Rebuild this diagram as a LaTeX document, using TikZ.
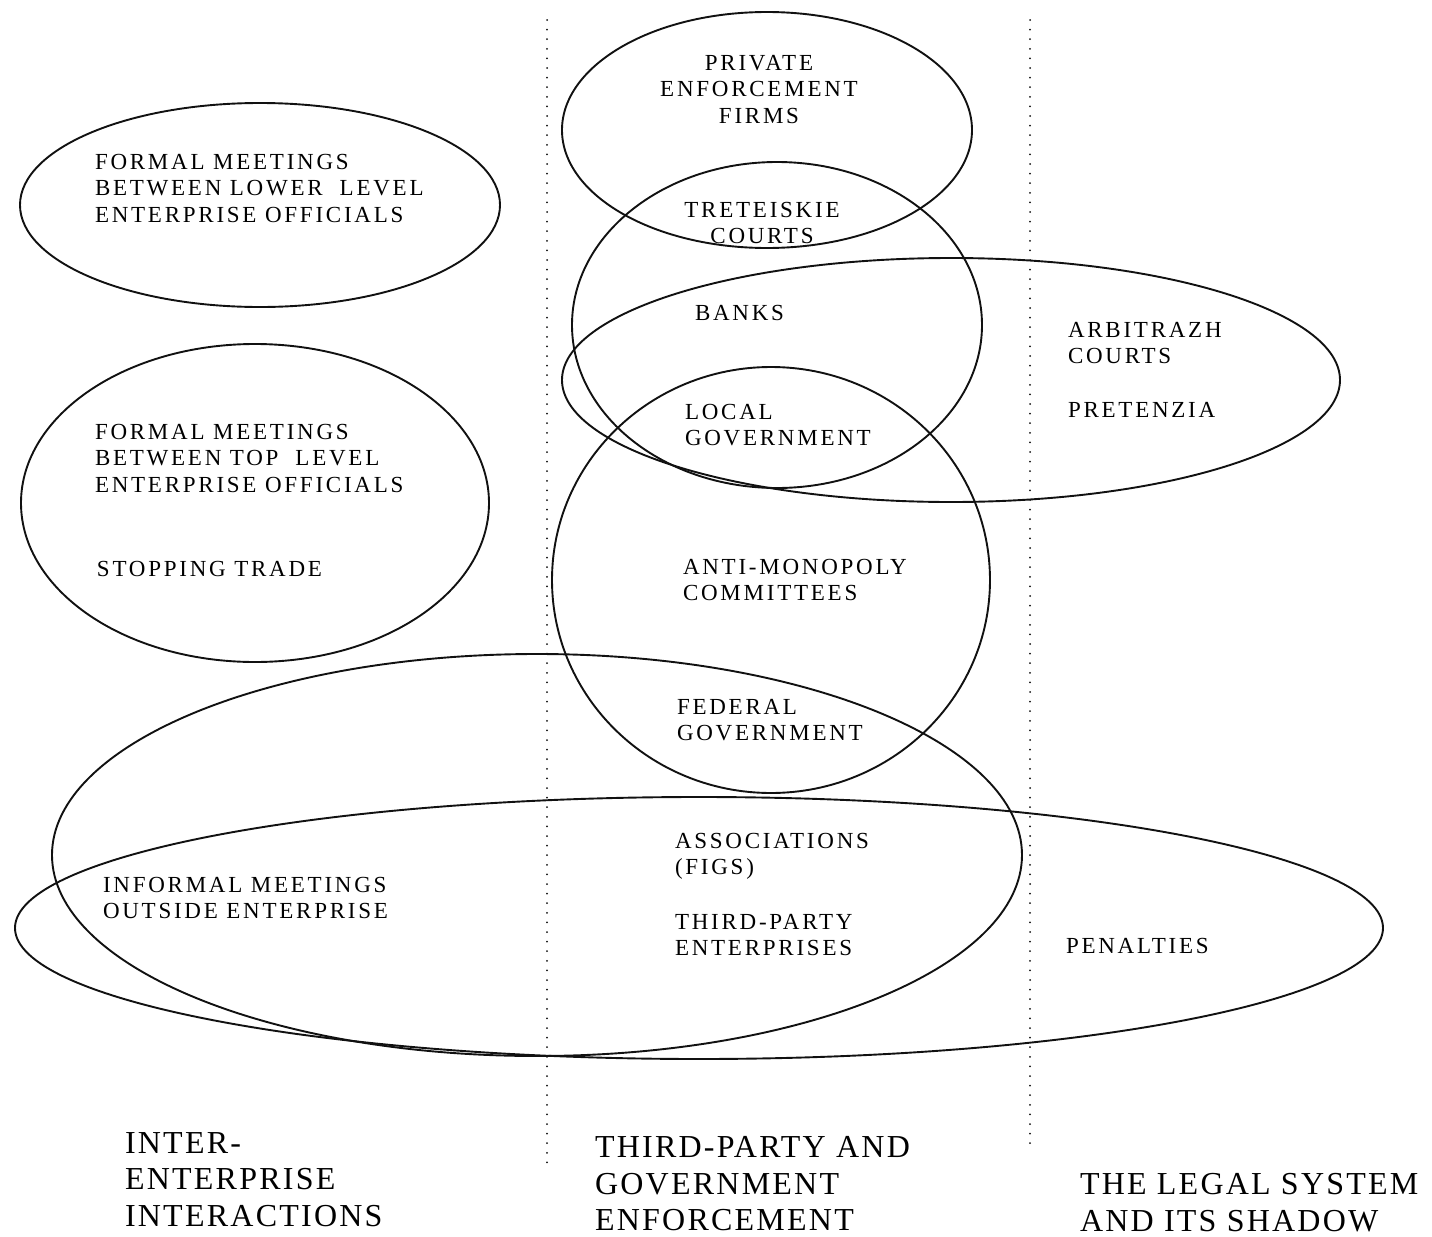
\documentclass[tikz,border=0pt]{standalone}
\usepackage{fontspec}
\setmainfont{Liberation Serif}
\newfontfamily\boxfont[LetterSpace=12]{Liberation Serif}
\newfontfamily\colfont[LetterSpace=7]{Liberation Serif}
\usepackage{tikz}
\usetikzlibrary{positioning}

\begin{document}
\begin{tikzpicture}[
    x={(0.5pt,0pt)}, y={(0pt,-0.5pt)},
    every node/.style={inner sep=0pt, outer sep=0pt},
    ring/.style={draw=ringink, line width=0.95pt},
    divider/.style={draw=ringink, line width=1pt, line cap=round, dash pattern=on 0pt off 4.8pt},
    boxlabel/.style={anchor=north west, align=left, font=\boxfont\fontsize{11.5}{13.25}\selectfont},
    collabel/.style={anchor=north west, align=left, font=\colfont\fontsize{16}{18.2}\selectfont},
  ]
    \definecolor{ringink}{HTML}{111111}
    \pgfmathsetmacro{\Lx}{547}
    \pgfmathsetmacro{\Rx}{1030}
    \useasboundingbox (0,0) rectangle (1432,1237);

    % ============ column dividers ============
    \draw[divider] (\Lx,20) -- (\Lx,1163);
    \draw[divider] (\Rx,20) -- (\Rx,1149);

    % ============ inter-enterprise column ============
    \draw[ring] (260,205) ellipse [x radius=240, y radius=102];
    \draw[ring] (255,503) ellipse [x radius=234, y radius=159];
    \node[boxlabel] (lowerlvl) at (95,154)
      {FORMAL MEETINGS\\BETWEEN LOWER\ \ LEVEL\\ENTERPRISE OFFICIALS};
    \node[boxlabel] (toplvl) at (95,424)
      {FORMAL MEETINGS\\BETWEEN TOP\ \ LEVEL\\ENTERPRISE OFFICIALS};
    \node[boxlabel] (stoptrade) at (97,561) {STOPPING TRADE};

    % ============ third-party column ============
    \draw[ring] (767,130) ellipse [x radius=205, y radius=118];
    \draw[ring] (777,325) ellipse [x radius=205, y radius=163];
    \draw[ring] (771,580) ellipse [x radius=219, y radius=213];
    \node[boxlabel, anchor=north, align=center] (privfirms) at (759,55)
      {PRIVATE\\ENFORCEMENT\\FIRMS};
    \node[boxlabel, anchor=north, align=center] (treteiskie) at (762,202)
      {TRETEISKIE\\COURTS};
    \node[boxlabel] (banks) at (695,305) {BANKS};
    \node[boxlabel] (localgov) at (685,404) {LOCAL\\GOVERNMENT};
    \node[boxlabel] (antimono) at (683,559) {ANTI-MONOPOLY\\COMMITTEES};
    \node[boxlabel] (fedgov) at (677,699) {FEDERAL\\GOVERNMENT};
    \node[boxlabel] (assoc) at (675,833) {ASSOCIATIONS\\(FIGS)};
    \node[boxlabel] (thirdent) at (675,914) {THIRD-PARTY\\ENTERPRISES};

    % ============ legal system column ============
    \draw[ring] (951,380) ellipse [x radius=389, y radius=122];
    \node[boxlabel] (arbitrazh) at (1068,322) {ARBITRAZH\\COURTS};
    \node[boxlabel] (pretenzia) at (1068,402) {PRETENZIA};

    % ============ bottom rings ============
    \draw[ring] (537,855) ellipse [x radius=485, y radius=201];
    \draw[ring] (699,928) ellipse [x radius=684, y radius=131];
    \node[boxlabel] (informal) at (103,877) {INFORMAL MEETINGS\\OUTSIDE ENTERPRISE};
    \node[boxlabel] (penalties) at (1066,938) {PENALTIES};

    % ============ column headings ============
    \node[collabel] (headinter) at (125,1132.5) {INTER-\\ENTERPRISE\\INTERACTIONS};
    \node[collabel] (headthird) at (595,1136.5) {THIRD-PARTY AND\\GOVERNMENT\\ENFORCEMENT};
    \node[collabel] (headlegal) at (1080,1173.5) {THE LEGAL SYSTEM\\AND ITS SHADOW};
  \end{tikzpicture}
\end{document}
